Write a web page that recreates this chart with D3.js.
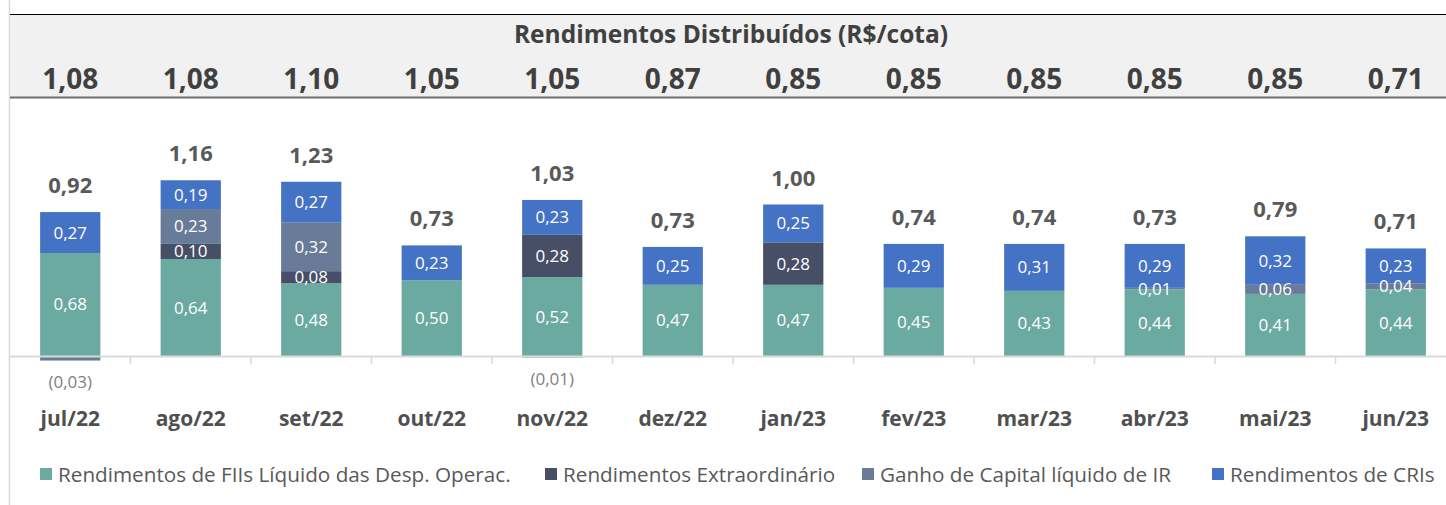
<!DOCTYPE html>
<html>
<head>
<meta charset="utf-8">
<script src="https://cdn.jsdelivr.net/npm/d3@7"></script>
<style>
  html, body { margin: 0; padding: 0; background: #ffffff; }
  svg { display: block; font-family: "Open Sans", sans-serif; }
</style>
</head>
<body>
<svg id="chart" width="1446" height="505"></svg>
<script>
// ---- data ----
const months = ['jul/22', 'ago/22', 'set/22', 'out/22', 'nov/22', 'dez/22',
                'jan/23', 'fev/23', 'mar/23', 'abr/23', 'mai/23', 'jun/23'];
const distributed = ['1,08', '1,08', '1,10', '1,05', '1,05', '0,87',
                     '0,85', '0,85', '0,85', '0,85', '0,85', '0,71'];
const fiiValues   = [0.68, 0.64, 0.48, 0.50, 0.52, 0.47, 0.47, 0.45, 0.43, 0.44, 0.41, 0.44];
const extraValues = [0, 0.10, 0.08, 0, 0.28, 0, 0.28, 0, 0, 0, 0, 0];
const ganhoValues = [-0.03, 0.23, 0.32, 0, -0.01, 0, 0, 0, 0, 0.01, 0.06, 0.04];
const criValues   = [0.27, 0.19, 0.27, 0.23, 0.23, 0.25, 0.25, 0.29, 0.31, 0.29, 0.32, 0.23];
const totals      = ['0,92', '1,16', '1,23', '0,73', '1,03', '0,73',
                     '1,00', '0,74', '0,74', '0,73', '0,79', '0,71'];
const seriesNames = ['Rendimentos de FIIs Líquido das Desp. Operac.',
                     'Rendimentos Extraordinário',
                     'Ganho de Capital líquido de IR',
                     'Rendimentos de CRIs'];
const seriesKeys = ['fii', 'extra', 'ganho', 'cri'];
const seriesColors = ['#6aaaa0', '#474f66', '#687b98', '#4472c4'];

const W = 1446, H = 505;
const svg = d3.select('#chart');

const rows = months.map((m, i) => ({
  month: m,
  fii: fiiValues[i],
  extra: extraValues[i],
  ganho: ganhoValues[i],
  cri: criValues[i]
}));

const fmt = (v) => {
  const s = Math.abs(v).toFixed(2).replace('.', ',');
  return v < 0 ? `(${s})` : s;
};

// ---- scales ----
const x = d3.scaleBand().domain(months).range([10, 1456])
  .paddingInner(0.5).paddingOuter(0.25);
const step = x.step();
const y = d3.scaleLinear().domain([0, 1]).range([356, 204.5]);

// ---- frame & header ----
svg.append('line')
  .attr('x1', 9.5).attr('x2', 9.5).attr('y1', 0).attr('y2', H)
  .attr('stroke', '#d9d9d9').attr('stroke-width', 1.5);

svg.append('rect')
  .attr('x', 10).attr('y', 14).attr('width', W - 10).attr('height', 83)
  .attr('fill', '#f1f1f1');
svg.append('line')
  .attr('x1', 10).attr('x2', W).attr('y1', 14.5).attr('y2', 14.5)
  .attr('stroke', '#000000').attr('stroke-width', 1);
svg.append('line')
  .attr('x1', 10).attr('x2', W).attr('y1', 97.5).attr('y2', 97.5)
  .attr('stroke', '#6f6f6f').attr('stroke-width', 2);

svg.append('text')
  .attr('x', 731).attr('y', 43)
  .attr('text-anchor', 'middle')
  .attr('font-size', 24.5).attr('font-weight', 700)
  .attr('fill', '#404040')
  .text('Rendimentos Distribuídos (R$/cota)');

svg.append('g').selectAll('text')
  .data(months)
  .join('text')
  .attr('x', (d) => x(d) + x.bandwidth() / 2)
  .attr('y', 89)
  .attr('text-anchor', 'middle')
  .attr('font-size', 28).attr('font-weight', 700)
  .attr('fill', '#404040')
  .text((d, i) => distributed[i]);

// ---- bars ----
const stack = d3.stack().keys(seriesKeys).offset(d3.stackOffsetDiverging);
const layers = stack(rows);

const barG = svg.append('g');
layers.forEach((layer, li) => {
  barG.append('g')
    .attr('fill', seriesColors[li])
    .selectAll('rect')
    .data(layer.filter((d) => d[1] !== d[0]))
    .join('rect')
    .attr('x', (d) => x(d.data.month))
    .attr('width', x.bandwidth())
    .attr('y', (d) => y(Math.max(d[0], d[1])))
    .attr('height', (d) => Math.abs(y(d[0]) - y(d[1])));
});

// axis (baseline + ticks between categories)
const axisG = svg.append('g');
axisG.append('line')
  .attr('x1', 10).attr('x2', W).attr('y1', 356.5).attr('y2', 356.5)
  .attr('stroke', '#d9d9d9').attr('stroke-width', 2);
axisG.selectAll('line.tick')
  .data(months.slice(1))
  .join('line')
  .attr('class', 'tick')
  .attr('x1', (d) => x(d) - step * 0.25)
  .attr('x2', (d) => x(d) - step * 0.25)
  .attr('y1', 356).attr('y2', 364)
  .attr('stroke', '#d9d9d9').attr('stroke-width', 1.5);

// segment labels
const labelG = svg.append('g');
layers.forEach((layer, li) => {
  const key = seriesKeys[li];
  labelG.append('g')
    .selectAll('text')
    .data(layer.filter((d) => d.data[key] !== 0))
    .join('text')
    .attr('x', (d) => x(d.data.month) + x.bandwidth() / 2)
    .attr('y', (d) => {
      if (d.data[key] < 0) return y(Math.min(d[0], d[1])) + 27;
      return (y(d[0]) + y(d[1])) / 2 + 6;
    })
    .attr('text-anchor', 'middle')
    .attr('font-size', 17)
    .attr('fill', (d) => (d.data[key] < 0 ? '#7f7f7f' : '#ffffff'))
    .text((d) => fmt(d.data[key]));
});

// total labels on top of stacks
svg.append('g').selectAll('text')
  .data(rows)
  .join('text')
  .attr('x', (d) => x(d.month) + x.bandwidth() / 2)
  .attr('y', (d) => y(d.fii + Math.max(0, d.extra) + Math.max(0, d.ganho) + d.cri) - 19)
  .attr('text-anchor', 'middle')
  .attr('font-size', 22).attr('font-weight', 700)
  .attr('fill', '#595959')
  .text((d, i) => totals[i]);

// category labels
svg.append('g').selectAll('text')
  .data(months)
  .join('text')
  .attr('x', (d) => x(d) + x.bandwidth() / 2)
  .attr('y', 426)
  .attr('text-anchor', 'middle')
  .attr('font-size', 21).attr('font-weight', 700)
  .attr('fill', '#505050')
  .text((d) => d);

// ---- legend ----
const legendX = [40, 545, 862, 1212];
const legend = svg.append('g')
  .selectAll('g')
  .data(seriesNames)
  .join('g')
  .attr('transform', (d, i) => `translate(${legendX[i]},474)`);
legend.append('rect')
  .attr('x', 0).attr('y', -6).attr('width', 12).attr('height', 12)
  .attr('fill', (d, i) => seriesColors[i]);
legend.append('text')
  .attr('x', 18).attr('y', 7.5)
  .attr('font-size', 20.7)
  .attr('fill', '#595959')
  .text((d) => d);
</script>
</body>
</html>
